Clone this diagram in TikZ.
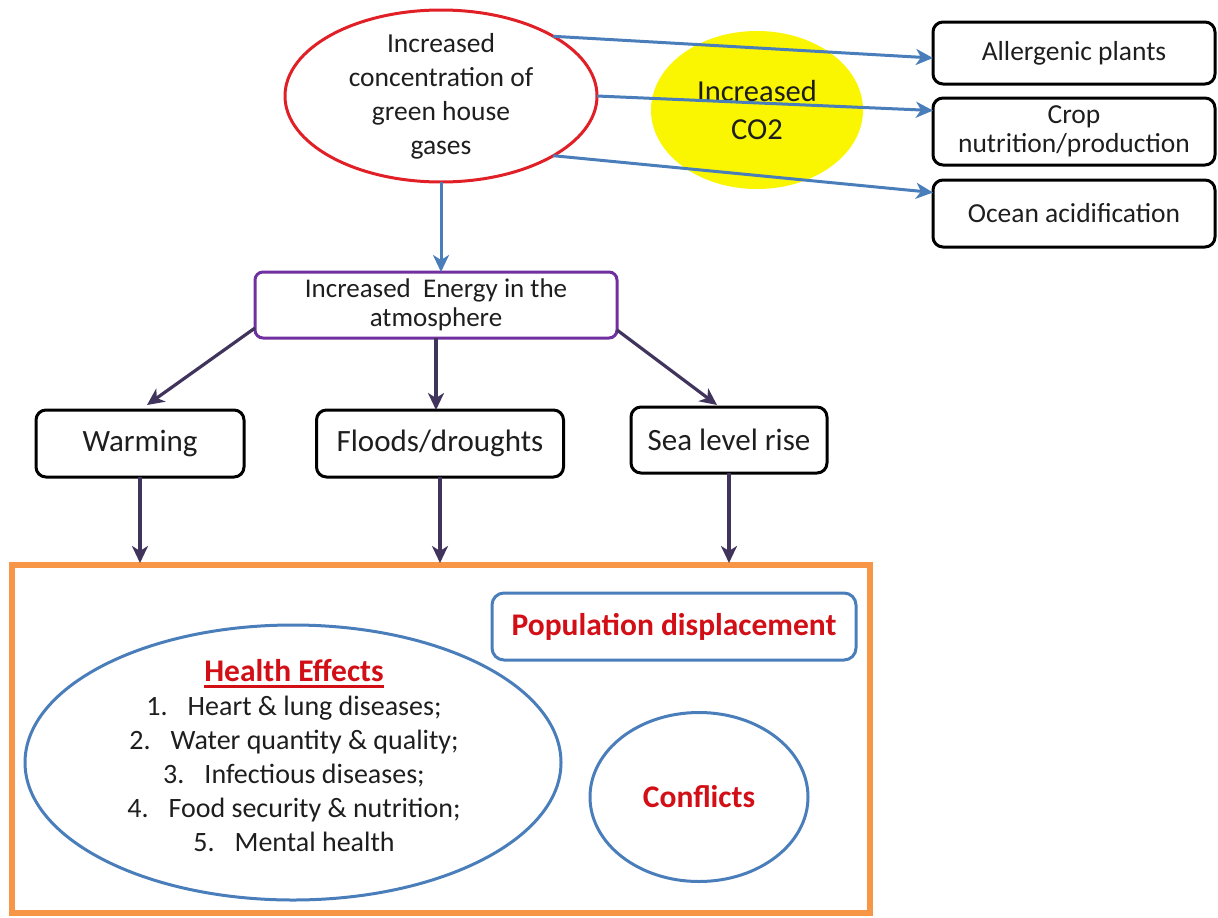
\documentclass[tikz,border=0pt]{standalone}
\usepackage{fontspec}
\setmainfont{Carlito}
\usetikzlibrary{arrows.meta,shapes.geometric,calc}
\definecolor{ghgred}{RGB}{224,32,38}
\definecolor{cblue}{RGB}{74,126,187}
\definecolor{dpurple}{RGB}{64,52,92}
\definecolor{epurple}{RGB}{112,48,160}
\definecolor{orng}{RGB}{247,150,70}
\definecolor{ylw}{RGB}{250,245,0}
\definecolor{txtred}{RGB}{210,14,22}
\definecolor{txt}{RGB}{30,30,30}
\newcommand{\redul}[1]{\setbox0\hbox{#1}\rlap{\raisebox{-6pt}{\color{txtred}\rule{\wd0}{2.5pt}}}\box0}
\begin{document}
\begin{tikzpicture}[x=1pt,y=-1pt,
  every node/.style={text=txt, inner sep=0pt, outer sep=0pt},
  rbox/.style={draw=black, line width=3pt, rounded corners=10pt, font=\fontsize{27.5}{29}\selectfont, align=center},
  midbox/.style={draw=black, line width=3pt, rounded corners=10pt, font=\fontsize{31}{34}\selectfont, align=center},
  bluearr/.style={draw=cblue, line width=3pt, -{Stealth[length=17pt,width=16pt,inset=5pt]}},
  darr/.style={draw=dpurple, line width=3.2pt, -{Stealth[length=17pt,width=16pt,inset=5pt]}},
]
\useasboundingbox (0,0) rectangle (1218,918);

% yellow CO2 blob
\node[ellipse, fill=ylw, minimum width=212pt, minimum height=158pt, align=center,
      font=\fontsize{30.5}{38}\selectfont] (co2) at (757,110) {Increased\\CO2};

% greenhouse gas ellipse
\node[ellipse, draw=ghgred, line width=3pt, minimum width=312pt, minimum height=172pt] (ghg) at (441,96) {};
\node[align=center, font=\fontsize{27.5}{34}\selectfont] (ghgt) at (ghg.center) {Increased\\concentration of\\green house\\gases};

% right boxes
\node[rbox, minimum width=282pt, minimum height=62pt] (allerg) at (1074,53) {Allergenic plants};
\node[rbox, minimum width=282pt, minimum height=67pt] (crop) at (1074,131.5) {Crop\\nutrition/production};
\node[rbox, minimum width=282pt, minimum height=67pt] (ocean) at (1074,213.5) {Ocean acidification};

\draw[bluearr] (ghg.28) -- ([yshift=-5pt]allerg.west);
\draw[bluearr] (ghg.east) -- ([yshift=21pt]crop.west);
\draw[bluearr] (ghg.-28) -- ([yshift=21pt]ocean.west);

% energy box
\node[draw=epurple, line width=3pt, rounded corners=8pt, minimum width=362pt, minimum height=66pt,
      align=center, font=\fontsize{27}{29}\selectfont] (energy) at (436,305) {Increased\ \ Energy in the\\atmosphere};
\draw[bluearr] (ghg.south) -- (ghg.south |- energy.north);

% middle row
\node[midbox, minimum width=208pt, minimum height=67pt] (warm) at (140,443.5) {Warming};
\node[midbox, minimum width=247pt, minimum height=67pt] (flood) at (440,443.5) {Floods/droughts};
\node[midbox, minimum width=196pt, minimum height=66pt] (sea) at (729,440) {Sea level rise};

\draw[darr] ([yshift=10pt]energy.south west) -- ([xshift=7pt,yshift=5pt]warm.north);
\draw[darr] (energy.south) -- (energy.south |- flood.north);
\draw[darr] ([yshift=8pt]energy.south east) -- ([xshift=-12pt,yshift=2pt]sea.north);

% outer orange box
\node[draw=orng, line width=6pt, minimum width=858pt, minimum height=348pt] (outer) at (441,739) {};
\coordinate (otop) at ([yshift=2pt]outer.north);
\draw[darr] (warm.south) -- (warm.south |- otop);
\draw[darr] (flood.south) -- (flood.south |- otop);
\draw[darr] (sea.south) -- (sea.south |- otop);

% population displacement
\node[draw=cblue, line width=3pt, rounded corners=12pt, minimum width=364pt, minimum height=67pt,
      text=txtred, font=\bfseries\fontsize{31.5}{36}\selectfont] (pop) at (674,626.5) {Population displacement};

% health effects
\node[ellipse, draw=cblue, line width=3pt, minimum width=536pt, minimum height=275pt] (health) at (293,762.5) {};
\node[align=center, font=\fontsize{28}{34}\selectfont] (healtht) at (294,756)
  {{\bfseries\color{txtred}\fontsize{31.5}{34}\selectfont\redul{Health Effects}}\\
   1.\hspace{20pt}Heart \& lung diseases;\\
   2.\hspace{20pt}Water quantity \& quality;\\
   3.\hspace{20pt}Infectious diseases;\\
   4.\hspace{20pt}Food security \& nutrition;\\
   5.\hspace{20pt}Mental health};

% conflicts
\node[ellipse, draw=cblue, line width=3pt, minimum width=218pt, minimum height=169pt,
      text=txtred, font=\bfseries\fontsize{31.5}{36}\selectfont] (confl) at (699,797) {Conflicts};
\end{tikzpicture}
\end{document}
